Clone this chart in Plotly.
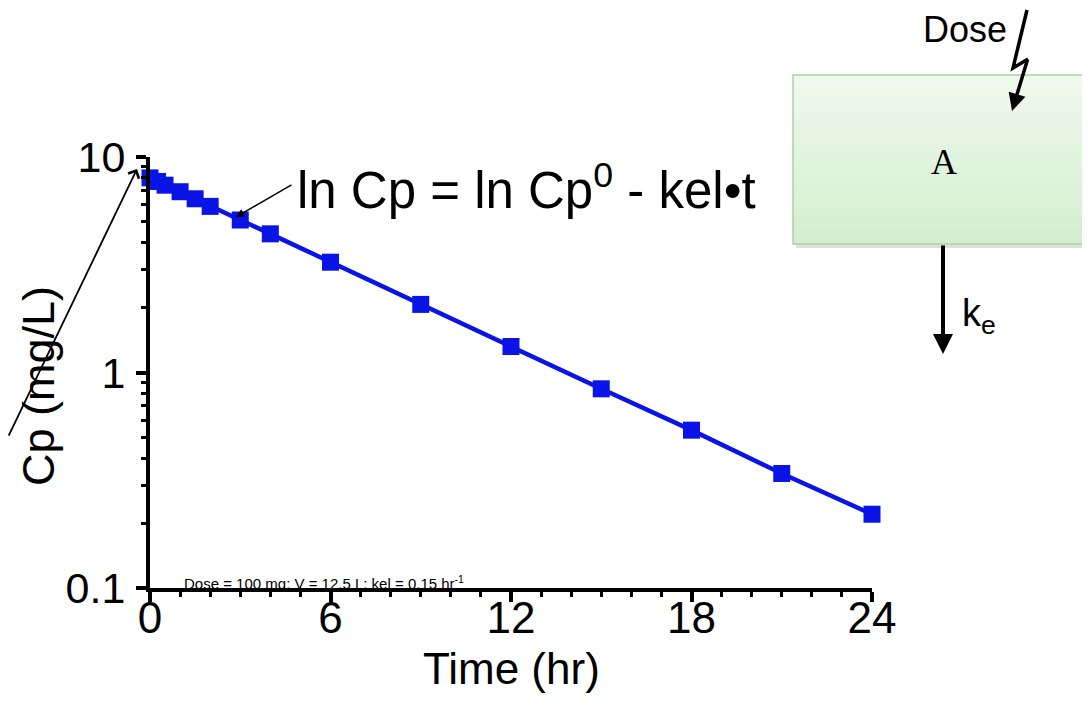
import plotly.graph_objects as go

# ---- data ----
time_hr = [0, 0.25, 0.5, 1, 1.5, 2, 3, 4, 6, 9, 12, 15, 18, 21, 24]
cp_mg_per_l = [8.0, 7.7, 7.4, 6.9, 6.4, 5.9, 5.1, 4.4, 3.25, 2.07, 1.32, 0.84, 0.54, 0.34, 0.22]
x_tick_vals = [0, 6, 12, 18, 24]
y_tick_vals = [0.1, 1, 10]
y_tick_text = ["0.1", "1", "10"]

OFF = 8  # page body margin
W, H = 1090 - 2 * OFF, 705 - 2 * OFF
L, T = 150 - OFF, 157 - OFF
R = W - (872 - OFF)
B = H - (588 - OFF)
PW, PH = W - L - R, H - T - B

def px(x):  # screen pixel x -> paper
    return (x - OFF - L) / PW

def py(y):  # screen pixel y -> paper
    return (H - B - (y - OFF)) / PH

FONT = "Liberation Sans, Arial, Helvetica, sans-serif"
BLUE = "#0a14e6"

fig = go.Figure()
fig.add_trace(go.Scatter(
    x=time_hr, y=cp_mg_per_l, mode="lines+markers",
    line=dict(color=BLUE, width=4.5),
    marker=dict(symbol="square", size=17, color=BLUE),
    cliponaxis=False, showlegend=False,
))

shapes = []
annotations = []

# axis titles
annotations.append(dict(xref="paper", yref="paper", x=px(511), y=py(668),
                        xanchor="center", yanchor="middle", showarrow=False,
                        text="Time (hr)", font=dict(family=FONT, size=44, color="black")))
annotations.append(dict(xref="paper", yref="paper", x=px(38), y=py(386),
                        xanchor="center", yanchor="middle", showarrow=False, textangle=-90,
                        text="Cp (mg/L)", font=dict(family=FONT, size=45, color="black")))

# equation label + arrow
annotations.append(dict(xref="paper", yref="paper", x=px(295), y=py(187),
                        xanchor="left", yanchor="middle", showarrow=False,
                        text="ln Cp = ln Cp<sup>0</sup> - kel•t",
                        font=dict(family=FONT, size=51, color="black")))
annotations.append(dict(xref="paper", yref="paper", x=px(236), y=py(217),
                        ax=57, ay=-33, text="", showarrow=True,
                        arrowhead=2, arrowsize=1.2, arrowwidth=1.4, arrowcolor="black"))
# long arrow to Cp0
annotations.append(dict(xref="paper", yref="paper", x=px(137), y=py(169),
                        ax=-140, ay=268, text="", showarrow=True,
                        arrowhead=4, arrowsize=1.3, arrowwidth=1.8, arrowcolor="black"))
# parameter text
annotations.append(dict(xref="paper", yref="paper", x=px(182), y=py(582),
                        xanchor="left", yanchor="middle", showarrow=False,
                        text="Dose = 100 mg; V = 12.5 L; kel = 0.15 hr<sup>-1</sup>",
                        font=dict(family=FONT, size=15, color="black")))

# ---- compartment diagram ----
bx0, by0, bx1, by1 = 793, 75, 1110, 244
# shadow
shapes.append(dict(type="rect", xref="paper", yref="paper",
                   x0=px(bx0 + 3), x1=px(bx1 + 3), y0=py(by0 + 3), y1=py(by1 + 4),
                   fillcolor="rgba(0,0,0,0.12)", line=dict(width=0), layer="above"))
# gradient bands
n = 24
c0 = (240, 249, 238)
c1 = (211, 239, 206)
for i in range(n):
    f = i / (n - 1)
    c = tuple(round(c0[k] + (c1[k] - c0[k]) * f) for k in range(3))
    ya = by0 + (by1 - by0) * i / n
    yb = by0 + (by1 - by0) * (i + 1) / n
    shapes.append(dict(type="rect", xref="paper", yref="paper",
                       x0=px(bx0), x1=px(bx1), y0=py(ya), y1=py(yb + 0.5),
                       fillcolor="rgb(%d,%d,%d)" % c, line=dict(width=0), layer="above"))
shapes.append(dict(type="rect", xref="paper", yref="paper",
                   x0=px(bx0), x1=px(bx1), y0=py(by0), y1=py(by1),
                   fillcolor="rgba(0,0,0,0)", line=dict(color="#a9d3a2", width=1.5), layer="above"))

# dose lightning
shapes.append(dict(type="path", xref="paper", yref="paper", layer="above",
                   path="M %f,%f L %f,%f L %f,%f" % (px(1027), py(10), px(1013), py(68), px(1028), py(59)),
                   line=dict(color="black", width=3.5)))
annotations.append(dict(xref="paper", yref="paper", x=px(1012), y=py(111),
                        ax=16, ay=-53, text="", showarrow=True,
                        arrowhead=2, arrowsize=1.0, arrowwidth=3.5, arrowcolor="black"))
annotations.append(dict(xref="paper", yref="paper", x=px(965), y=py(8),
                        xanchor="center", yanchor="top", showarrow=False, borderpad=0,
                        text="Dose", font=dict(family=FONT, size=36, color="black")))
annotations.append(dict(xref="paper", yref="paper", x=px(944), y=py(162),
                        xanchor="center", yanchor="middle", showarrow=False,
                        text="A", font=dict(family="Liberation Serif, Times New Roman, serif", size=36, color="black")))
# elimination arrow
annotations.append(dict(xref="paper", yref="paper", x=px(943), y=py(354),
                        ax=0, ay=-110, text="", showarrow=True,
                        arrowhead=2, arrowsize=1.0, arrowwidth=4, arrowcolor="black"))
annotations.append(dict(xref="paper", yref="paper", x=px(960), y=py(316),
                        xanchor="left", yanchor="middle", showarrow=False,
                        text="k<sub>e</sub>", font=dict(family=FONT, size=38, color="black")))

fig.update_layout(
    width=W, height=H, autosize=False,
    margin=dict(l=L, r=R, t=T, b=B, pad=0, autoexpand=False),
    paper_bgcolor="white", plot_bgcolor="white",
    font=dict(family=FONT, color="black"),
    shapes=shapes, annotations=annotations,
    xaxis=dict(range=[0, 24], tickvals=x_tick_vals, ticks="outside", ticklen=10, tickwidth=3.5,
               tickcolor="black", showline=True, linecolor="black", linewidth=4, automargin=False,
               showgrid=False, zeroline=False, tickfont=dict(size=44, family=FONT),
               ticklabelstandoff=-22,
               minor=dict(dtick=1, ticks="outside", ticklen=5, tickwidth=3, tickcolor="black", showgrid=False)),
    yaxis=dict(type="log", range=[-1, 1], tickvals=y_tick_vals, ticktext=y_tick_text,
               ticks="outside", ticklen=10, tickwidth=3.5, tickcolor="black", automargin=False,
               showline=True, linecolor="black", linewidth=4, showgrid=False, zeroline=False,
               tickfont=dict(size=43, family=FONT), ticklabelstandoff=2,
               minor=dict(dtick="D1", ticks="outside", ticklen=5, tickwidth=3, tickcolor="black", showgrid=False)),
)

fig.write_html("out.html")
